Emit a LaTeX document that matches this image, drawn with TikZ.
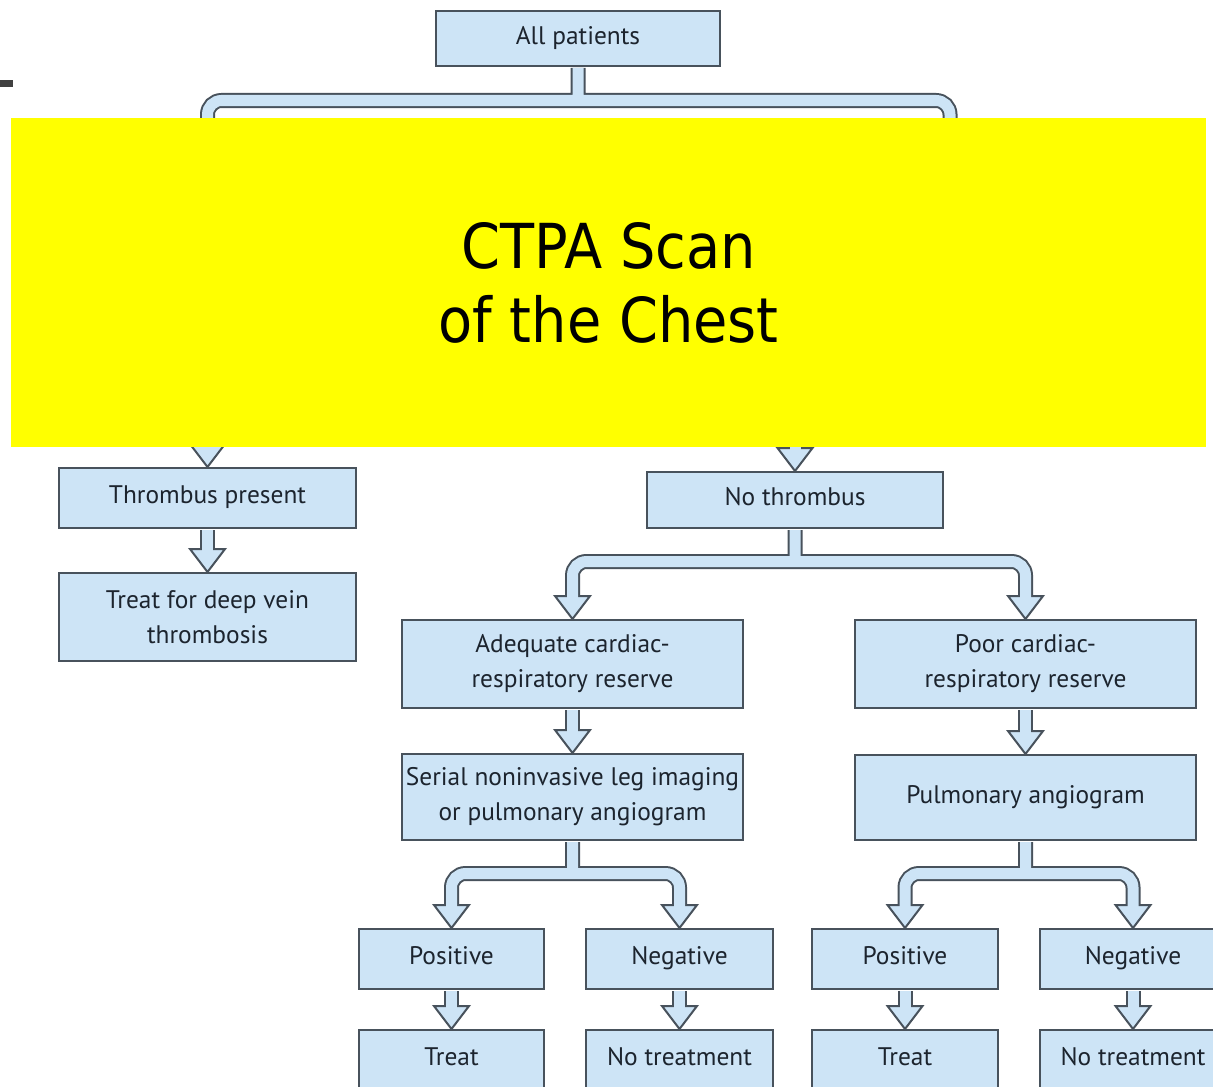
\documentclass[tikz,border=0pt]{standalone}
\usepackage{fontspec}
\setmainfont{PT Sans}
\newfontfamily\ctpafont[FakeStretch=0.9]{DejaVu Sans}
\usetikzlibrary{positioning,calc}
\definecolor{boxblue}{RGB}{205,228,246}
\definecolor{boxline}{RGB}{72,82,92}
\definecolor{boxtext}{RGB}{28,36,46}
\definecolor{darkbar}{RGB}{64,64,64}
\definecolor{ctpayellow}{RGB}{255,255,0}

% block arrow: outline, heads, then the light inside
\newcommand{\flowarrow}[2]{%
  \draw[stemout] #1;
  \foreach \t in {#2} {\filldraw[head] (\t) -- ++(-17.5,-23) -- ++(35,0) -- cycle;}
  \draw[stemin] #1;
}

\begin{document}
\begin{tikzpicture}[x=0.5pt, y=-0.5pt,
  flowbox/.style = {draw=boxline, fill=boxblue, line width=1pt, text=boxtext, align=center,
    inner sep=0pt, font=\fontsize{12.7}{17.5}\selectfont},
  oneline/.style = {flowbox, text height=1.6ex, text depth=.45ex},
  stemout/.style = {draw=boxline, line width=7.5pt, rounded corners=7pt},
  stemin/.style = {draw=boxblue, line width=5.5pt, rounded corners=7pt},
  head/.style = {fill=boxblue, draw=boxline, line width=1pt},
  ctpa/.style = {fill=ctpayellow, text=black, align=center, inner sep=0pt,
    font=\ctpafont\fontsize{31}{37}\selectfont}]
\useasboundingbox (0,0) rectangle (1213,1086);
\fill[darkbar] (0,80) rectangle (13,87);

\node[oneline, minimum width=142pt, minimum height=27.5pt] (allp) at (578,38.5) {All patients};
\node[oneline, minimum width=148.5pt, minimum height=30pt] (thr) at (207.5,498) {Thrombus present};
\node[flowbox, minimum width=148.5pt, minimum height=44pt] (dvt) [below=21.5pt of thr] {Treat for deep vein\\thrombosis};
\node[oneline, minimum width=148pt, minimum height=28pt] (nothr) at (795,500) {No thrombus};
\node[flowbox, minimum width=170.5pt, minimum height=44pt] (adeq) at (572.5,664) {Adequate cardiac-\\respiratory reserve};
\node[flowbox, minimum width=170.5pt, minimum height=44pt] (poor) [right=55pt of adeq] {Poor cardiac-\\respiratory reserve};
\node[flowbox, minimum width=170.5pt, minimum height=43pt] (serial) [below=22pt of adeq] {Serial noninvasive leg imaging\\or pulmonary angiogram};
\node[oneline, minimum width=170.5pt, minimum height=42.5pt] (pulm) [below=22.5pt of poor] {Pulmonary angiogram};
\node[oneline, minimum width=92.5pt, minimum height=30pt] (posL) at (451.5,959) {Positive};
\node[oneline, minimum width=93.5pt, minimum height=30pt] (negL) [right=20pt of posL] {Negative};
\node[oneline, minimum width=92.5pt, minimum height=30pt] (treatL) [below=19.5pt of posL] {Treat};
\node[oneline, minimum width=93.5pt, minimum height=30pt] (notrL) [below=19.5pt of negL] {No treatment};
\node[oneline, minimum width=93pt, minimum height=30pt] (posR) at (905,959) {Positive};
\node[oneline, minimum width=93pt, minimum height=30pt] (negR) [right=20pt of posR] {Negative};
\node[oneline, minimum width=93pt, minimum height=30pt] (treatR) [below=19.5pt of posR] {Treat};
\node[oneline, minimum width=93pt, minimum height=30pt] (notrR) [below=19.5pt of negR] {No treatment};

\coordinate (hidR) at (950,300);
\coordinate (hidN) at (795,400);

\flowarrow{($(allp.south)+(0,1)$) -- ++(0,32.5) ($(thr.north)+(0,-21)$) |- ($(allp.south)+(0,33.5)$) -| (hidR)}{thr.north}
\flowarrow{(hidN) -- ($(nothr.north)+(0,-21)$)}{nothr.north}
\flowarrow{($(thr.south)+(0,1)$) -- ($(dvt.north)+(0,-21)$)}{dvt.north}
\flowarrow{($(nothr.south)+(0,1)$) -- ++(0,31.5) ($(adeq.north)+(0,-21)$) |- ($(nothr.south)+(0,32.5)$) -| ($(poor.north)+(0,-21)$)}{adeq.north,poor.north}
\flowarrow{($(adeq.south)+(0,1)$) -- ($(serial.north)+(0,-21)$)}{serial.north}
\flowarrow{($(poor.south)+(0,1)$) -- ($(pulm.north)+(0,-21)$)}{pulm.north}
\flowarrow{($(serial.south)+(0,1)$) -- ++(0,31.5) ($(posL.north)+(0,-21)$) |- ($(serial.south)+(0,32.5)$) -| ($(negL.north)+(0,-21)$)}{posL.north,negL.north}
\flowarrow{($(pulm.south)+(0,1)$) -- ++(0,31.5) ($(posR.north)+(0,-21)$) |- ($(pulm.south)+(0,32.5)$) -| ($(negR.north)+(0,-21)$)}{posR.north,negR.north}
\flowarrow{($(posL.south)+(0,1)$) -- ($(treatL.north)+(0,-21)$)}{treatL.north}
\flowarrow{($(negL.south)+(0,1)$) -- ($(notrL.north)+(0,-21)$)}{notrL.north}
\flowarrow{($(posR.south)+(0,1)$) -- ($(treatR.north)+(0,-21)$)}{treatR.north}
\flowarrow{($(negR.south)+(0,1)$) -- ($(notrR.north)+(0,-21)$)}{notrR.north}

\node[ctpa, minimum width=597.5pt, minimum height=164.5pt] (scan) at (608.5,282.5) {CTPA Scan\\of the Chest};
\end{tikzpicture}
\end{document}
